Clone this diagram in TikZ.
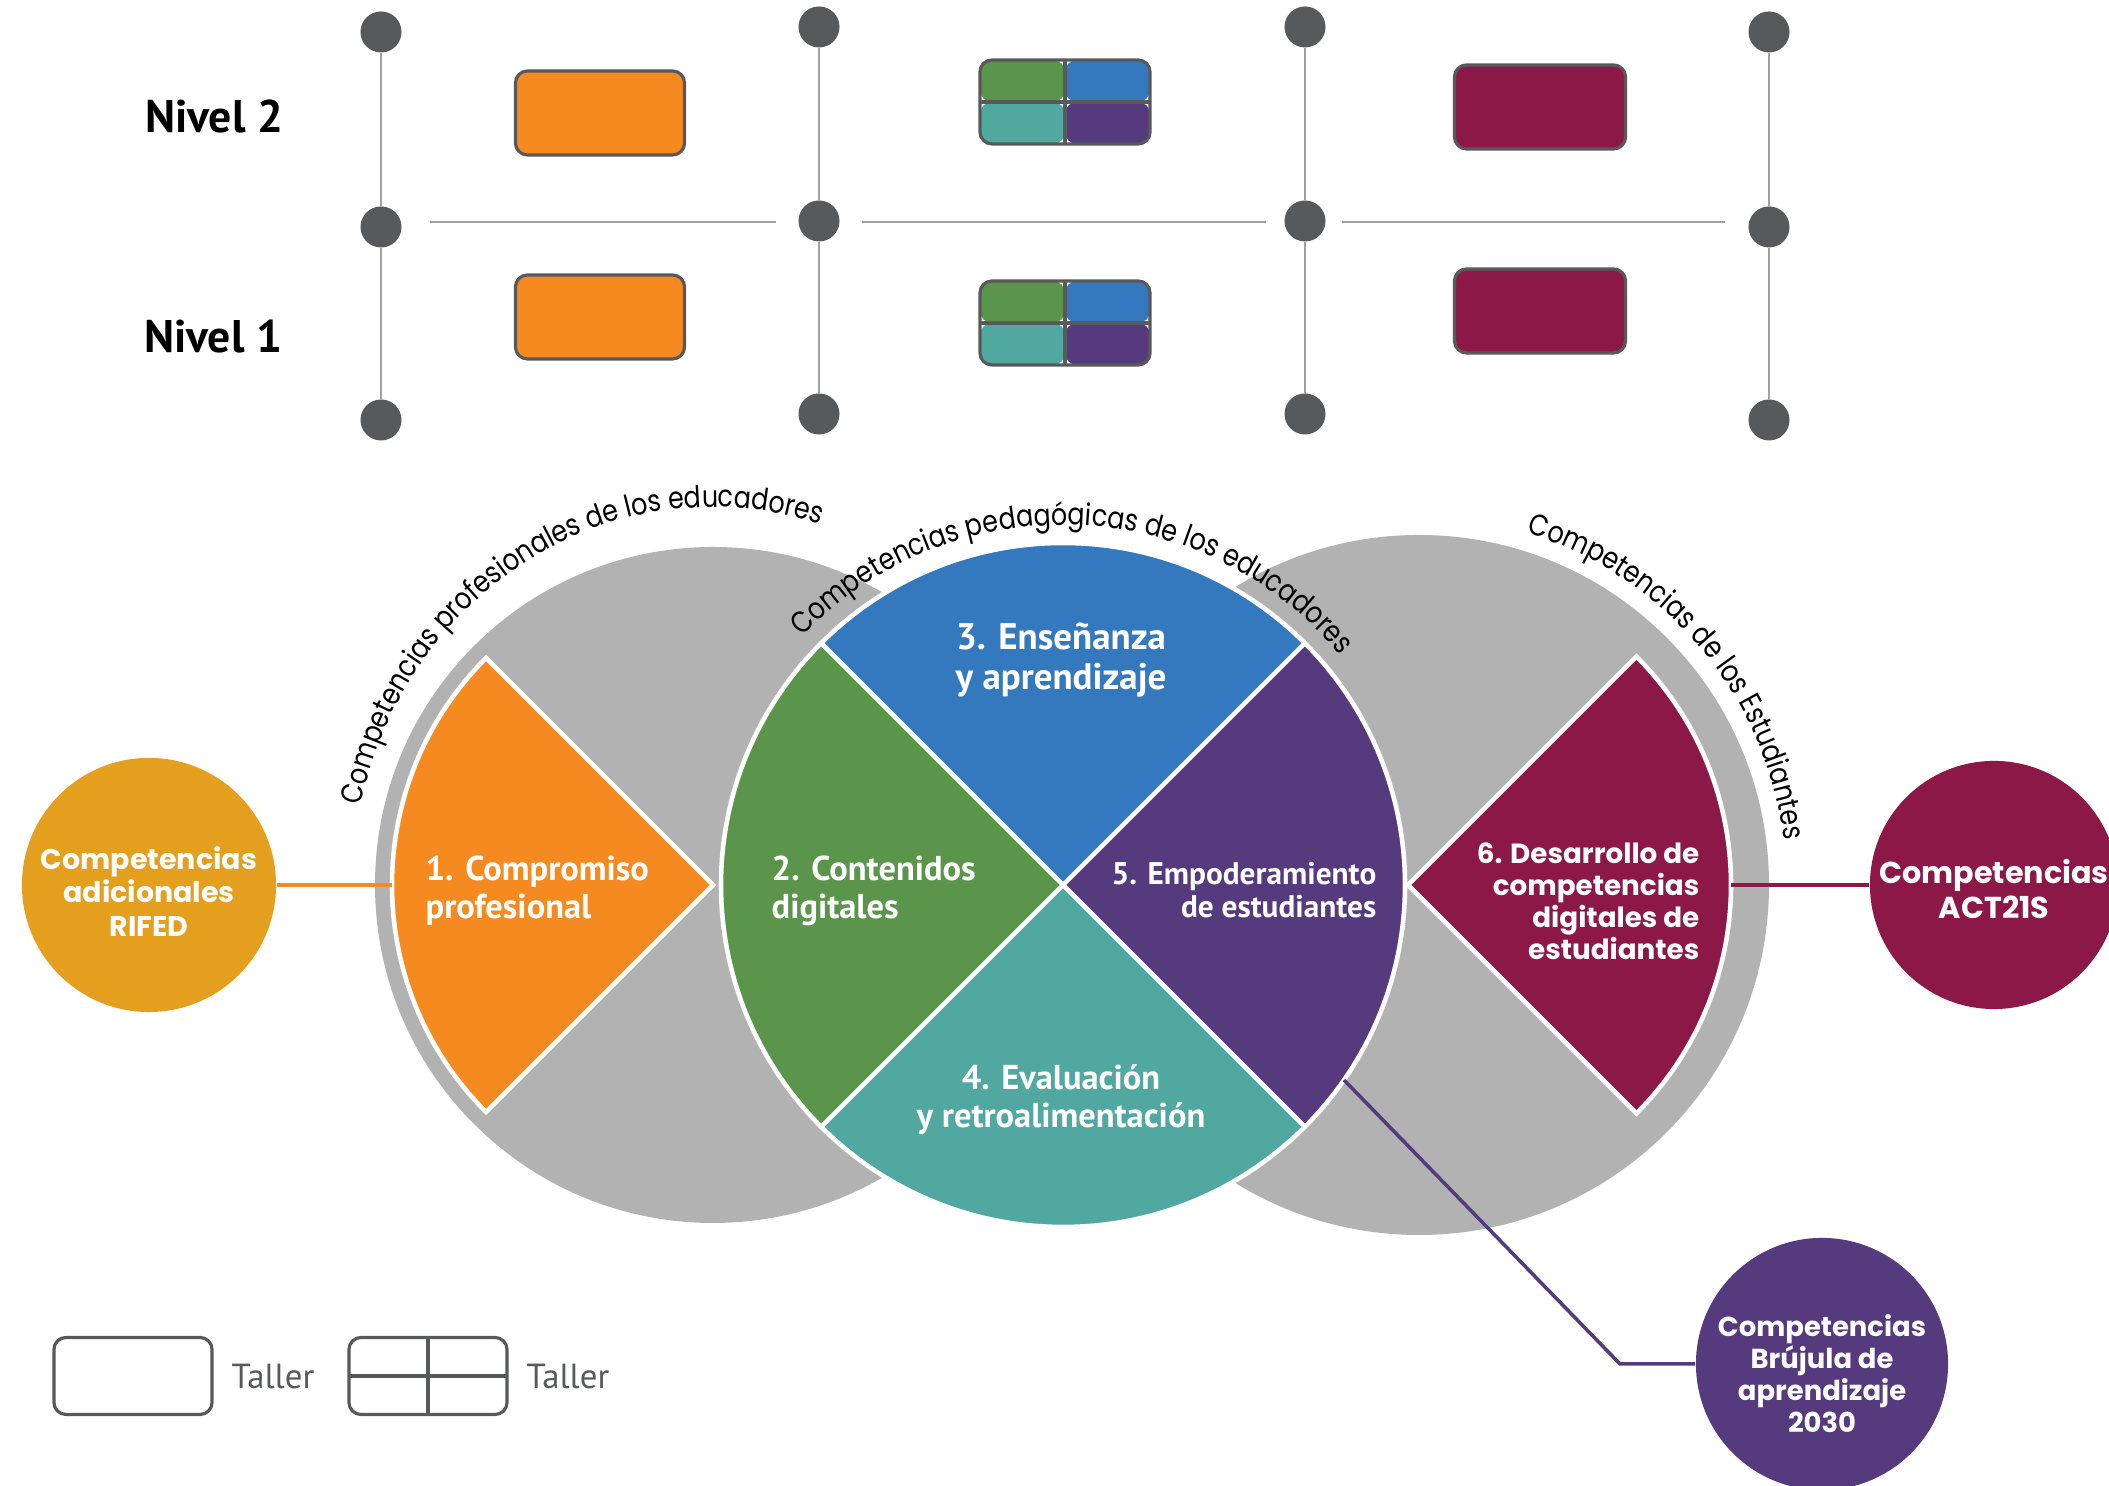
\documentclass[tikz,border=0pt]{standalone}
\usepackage{fontspec}
\setmainfont{PT Sans}
\newfontfamily\pop{Poppins}
\newfontfamily\popn{Poppins}[FakeStretch=0.84]
\usetikzlibrary{decorations.text}
\definecolor{corange}{HTML}{F58A21}
\definecolor{cgold}{HTML}{E39F1D}
\definecolor{cgreen}{HTML}{5B954B}
\definecolor{cblue}{HTML}{3478BE}
\definecolor{cteal}{HTML}{50A8A0}
\definecolor{cpurple}{HTML}{553A7E}
\definecolor{cmaroon}{HTML}{8B1846}
\definecolor{cgray}{HTML}{B2B2B2}
\definecolor{cdark}{HTML}{58595B}
\definecolor{cline}{HTML}{A0A0A0}
\newcommand\arcfont{\popn\fontsize{8.6}{10}\selectfont}
\newcommand\ctext[2]{\raisebox{#1}[\height][\depth]{\begin{tabular}{@{}c@{}}#2\end{tabular}}}
\begin{document}
\begin{tikzpicture}[x=0.01cm,y=0.01cm,
  dot/.style={circle,fill=cdark,minimum size=0.41cm,inner sep=0pt},
  vline/.style={draw=cline,line width=0.5pt},
  hline/.style={draw=cline,line width=0.8pt},
  tbox/.style={draw=cdark,line width=0.9pt,rounded corners=0.12cm,inner sep=0pt},
  quadfill/.style={path picture={
    \fill[cgreen] (path picture bounding box.north west) rectangle (path picture bounding box.center);
    \fill[cblue] (path picture bounding box.north east) rectangle (path picture bounding box.center);
    \fill[cteal] (path picture bounding box.south west) rectangle (path picture bounding box.center);
    \fill[cpurple] (path picture bounding box.south east) rectangle (path picture bounding box.center);
    \draw[cdark,line width=0.9pt] (path picture bounding box.north) -- (path picture bounding box.south)
      (path picture bounding box.west) -- (path picture bounding box.east);}},
  quadline/.style={path picture={
    \draw[cdark,line width=0.9pt] (path picture bounding box.north) -- (path picture bounding box.south)
      (path picture bounding box.west) -- (path picture bounding box.east);}},
  sect/.style={draw=white,line width=1.3pt},
  stxt/.style={text=white,inner sep=0pt,font=\bfseries\fontsize{9.8}{10.8}\selectfont},
  ptxt/.style={text=white,inner sep=0pt,font=\pop\bfseries\fontsize{7.9}{9.1}\selectfont},
  bigc/.style={circle,inner sep=0pt,text=white},
  conn/.style={line width=1pt},
  nivel/.style={font=\bfseries\fontsize{13}{15}\selectfont,inner sep=0pt},
  legt/.style={font=\fontsize{9.9}{12}\selectfont,text=cdark,inner sep=0pt}
]
\useasboundingbox (0,0) rectangle (2109,1486);
\clip (0,0) rectangle (2109,1486);

% ---------- top grid ----------
\foreach \n/\x/\a/\b/\c in {1/381/1454/1259/1066, 2/819/1459/1265/1072, 3/1305/1459/1265/1072, 4/1769/1454/1259/1066}{
  \node[dot] (t\n) at (\x,\a) {};
  \node[dot] (m\n) at (\x,\b) {};
  \node[dot] (b\n) at (\x,\c) {};
  \draw[vline] (t\n) -- (m\n);
  \draw[vline] (m\n) -- (b\n);
}
\coordinate (h1a) at (430,1264); \coordinate (h1b) at (776,1264);
\coordinate (h2a) at (862,1264); \coordinate (h2b) at (1266,1264);
\coordinate (h3a) at (1342,1264); \coordinate (h3b) at (1725,1264);
\draw[hline] (h1a) -- (h1b);
\draw[hline] (h2a) -- (h2b);
\draw[hline] (h3a) -- (h3b);

\node[nivel] (niv2) at (214,1369) {Nivel 2};
\node[nivel] (niv1) at (213,1149) {Nivel 1};

\node[tbox,fill=corange,minimum width=1.69cm,minimum height=0.84cm] (o2) at (600,1373) {};
\node[tbox,fill=corange,minimum width=1.69cm,minimum height=0.84cm] (o1) at (600,1169) {};
\node[tbox,quadfill,minimum width=1.70cm,minimum height=0.84cm] (q2) at (1065,1384) {};
\node[tbox,quadfill,minimum width=1.70cm,minimum height=0.84cm] (q1) at (1065,1163) {};
\node[tbox,fill=cmaroon,minimum width=1.71cm,minimum height=0.84cm] (r2) at (1540,1379) {};
\node[tbox,fill=cmaroon,minimum width=1.71cm,minimum height=0.84cm] (r1) at (1540,1175) {};

% ---------- bottom circles ----------
\coordinate (L) at (713,601);
\coordinate (C) at (1063,601);
\coordinate (R) at (1419,601);
\coordinate (M6) at (1408,601);
\fill[cgray] (L) circle[radius=338];
\fill[cgray] (R) circle[radius=350];
\filldraw[sect,fill=corange] (L) -- ++(135:321) arc[start angle=135,end angle=225,radius=321] -- cycle;
\filldraw[sect,fill=cmaroon] (M6) -- ++(-45:323) arc[start angle=-45,end angle=45,radius=323] -- cycle;

\fill[cblue] (C) -- ++(45:342) arc[start angle=45,end angle=135,radius=342] -- cycle;
\fill[cgreen] (C) -- ++(135:342) arc[start angle=135,end angle=225,radius=342] -- cycle;
\fill[cteal] (C) -- ++(225:342) arc[start angle=225,end angle=315,radius=342] -- cycle;
\fill[cpurple] (C) -- ++(-45:342) arc[start angle=-45,end angle=45,radius=342] -- cycle;
\draw[white,line width=1.3pt] (C) ++(45:342) -- ++(225:684);
\draw[white,line width=1.3pt] (C) ++(135:342) -- ++(-45:684);
\draw[white,line width=1.3pt] (C) circle[radius=342];

% arc labels
\path[decorate,decoration={text along path,text align=center,
  text={|\arcfont|Competencias profesionales de los educadores}}]
  (L) ++(-360,0) arc[start angle=180,end angle=60,x radius=360,y radius=378];
\path[decorate,decoration={text along path,text align=center,
  text={|\arcfont|Competencias pedagógicas de los educadores}}]
  (C) ++(148:360) arc[start angle=148,end angle=28,radius=360];
\path[decorate,decoration={text along path,text align=center,
  text={|\arcfont|Competencias de los Estudiantes}}]
  (R) ++(80:368) arc[start angle=80,end angle=0,radius=368];

% sector texts
\node[stxt,align=left,anchor=west] (s1) at (425,595) {1. Compromiso\\profesional};
\node[stxt,align=left,anchor=west] (s2) at (771,595) {2. Contenidos\\digitales};
\node[stxt,align=center,font=\bfseries\fontsize{10.5}{11.4}\selectfont] (s3) at (1061,826) {3. Enseñanza\\y aprendizaje};
\node[stxt,align=center] (s4) at (1061,386) {4. Evaluación\\y retroalimentación};
\node[stxt,align=right,anchor=east,font=\bfseries\fontsize{8.9}{9.6}\selectfont] (s5) at (1377,596) {5. Empoderamiento\\de estudiantes};
\node[ptxt,align=right,anchor=east] (s6) at (1700,585) {6. Desarrollo de\\competencias\\digitales de\\estudiantes};

% side circles
\node[bigc,fill=cgold,minimum size=2.54cm,font=\pop\bfseries\fontsize{8.1}{9.5}\selectfont] (rifed) at (149,601) {\ctext{-0.11cm}{Competencias\\adicionales\\RIFED}};
\node[bigc,fill=cmaroon,minimum size=2.48cm,font=\pop\bfseries\fontsize{8.6}{10}\selectfont] (act) at (1994,601) {\ctext{-0.09cm}{Competencias\\ACT21S}};
\node[bigc,fill=cpurple,minimum size=2.52cm,font=\pop\bfseries\fontsize{7.8}{9.1}\selectfont] (bruj) at (1822,122) {\ctext{-0.14cm}{Competencias\\Brújula de\\aprendizaje\\2030}};

\coordinate (a1) at (392,601);
\coordinate (a6) at (1731,601);
\coordinate (a5) at (1344,406);
\coordinate (k5) at (1620,122);
\draw[conn,corange] (rifed) -- (a1);
\draw[conn,cmaroon] (a6) -- (act);
\draw[conn,cpurple] (a5) -- (k5) -- (bruj);

% legend
\node[tbox,fill=white,minimum width=1.58cm,minimum height=0.77cm] (leg1) at (133,110) {};
\node[legt] (lt1) at (273,109) {Taller};
\node[tbox,fill=white,quadline,minimum width=1.58cm,minimum height=0.77cm] (leg2) at (428,110) {};
\node[legt] (lt2) at (568,109) {Taller};
\end{tikzpicture}
\end{document}
